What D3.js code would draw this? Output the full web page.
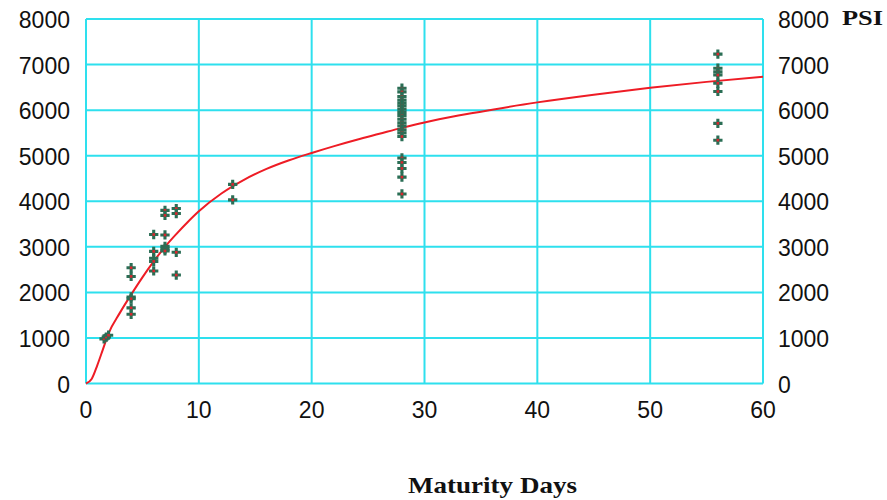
<!DOCTYPE html>
<html>
<head>
<meta charset="utf-8">
<script src="https://cdn.jsdelivr.net/npm/d3@7.9.0/dist/d3.min.js"></script>
<style>
  body { margin: 0; background: #fff; }
  svg { display: block; }
</style>
</head>
<body>
<svg id="chart" width="887" height="500"></svg>
<script>
// tick labels
const xTicks = [0, 10, 20, 30, 40, 50, 60];
const yTicks = [0, 1000, 2000, 3000, 4000, 5000, 6000, 7000, 8000];

// measured strength samples (days, psi)
const sampleDays = [
  1.6, 1.8, 2.0,
  4, 4, 4, 4, 4, 4,
  6, 6, 6, 6, 6,
  7, 7, 7, 7, 7, 7,
  8, 8, 8, 8,
  13, 13,
  28, 28, 28, 28, 28, 28, 28, 28, 28, 28, 28, 28, 28, 28, 28,
  28, 28, 28, 28, 28,
  56, 56, 56, 56, 56, 56, 56, 56
];
const samplePsi = [
  980, 1020, 1060,
  2540, 2350, 1900, 1860, 1660, 1520,
  3270, 2900, 2750, 2680, 2470,
  3800, 3690, 3260, 3010, 2950, 2910,
  3840, 3730, 2880, 2380,
  4370, 4030,
  6480, 6400, 6300, 6220, 6150, 6090, 6020, 5950, 5880, 5800, 5720, 5650, 5570, 5500, 5420,
  4950, 4850, 4720, 4530, 4160,
  7230, 6920, 6840, 6770, 6590, 6410, 5710, 5340
];

// fitted strength curve
const curveDays = [0, 0.5, 1, 1.5, 2, 3, 4, 5, 6, 7, 8, 9, 10, 12, 14, 16, 18, 20, 22, 24, 26, 28, 30, 33, 36, 40, 45, 50, 55, 60];
const curvePsi  = [0, 100, 400, 750, 1100, 1550, 1950, 2330, 2680, 3000, 3280, 3540, 3780, 4170, 4470, 4710, 4900, 5060, 5210, 5350, 5480, 5610, 5730, 5880, 6010, 6170, 6340, 6490, 6620, 6730];

const svg = d3.select("#chart");
const plotLeft = 86, plotRight = 763, plotTop = 19, plotBottom = 383.5;

const x = d3.scaleLinear().domain([0, 60]).range([plotLeft, plotRight]);
const y = d3.scaleLinear().domain([0, 8000]).range([plotBottom, plotTop]);

const grid = "#2ee0ee";
const labelFont = "'Liberation Sans', Arial, sans-serif";

// gridlines
svg.append("g").selectAll("line").data(xTicks).join("line")
  .attr("x1", d => x(d)).attr("x2", d => x(d))
  .attr("y1", plotTop).attr("y2", plotBottom)
  .attr("stroke", grid).attr("stroke-width", 2);

svg.append("g").selectAll("line").data(yTicks).join("line")
  .attr("x1", plotLeft).attr("x2", plotRight)
  .attr("y1", d => y(d)).attr("y2", d => y(d))
  .attr("stroke", grid).attr("stroke-width", 2);

// tick labels
svg.append("g").selectAll("text").data(yTicks).join("text")
  .attr("x", 70).attr("y", d => y(d) + 9)
  .attr("text-anchor", "end")
  .attr("font-family", labelFont).attr("font-size", 23).attr("fill", "#111")
  .text(d => d);

svg.append("g").selectAll("text").data(yTicks).join("text")
  .attr("x", 778).attr("y", d => y(d) + 9)
  .attr("text-anchor", "start")
  .attr("font-family", labelFont).attr("font-size", 23).attr("fill", "#111")
  .text(d => d);

svg.append("g").selectAll("text").data(xTicks).join("text")
  .attr("x", d => x(d)).attr("y", 418)
  .attr("text-anchor", "middle")
  .attr("font-family", labelFont).attr("font-size", 23).attr("fill", "#111")
  .text(d => d);

// titles
svg.append("text")
  .attr("x", 842).attr("y", 25)
  .attr("font-family", "'Liberation Serif', 'Times New Roman', serif")
  .attr("font-weight", "bold").attr("font-size", 20).attr("fill", "#111")
  .attr("textLength", 41).attr("lengthAdjust", "spacingAndGlyphs")
  .text("PSI");

svg.append("text")
  .attr("x", 408).attr("y", 493)
  .attr("font-family", "'Liberation Serif', 'Times New Roman', serif")
  .attr("font-weight", "bold").attr("font-size", 23).attr("fill", "#111")
  .attr("textLength", 169).attr("lengthAdjust", "spacingAndGlyphs")
  .text("Maturity Days");

// curve
const line = d3.line()
  .x(i => x(curveDays[i]))
  .y(i => y(curvePsi[i]))
  .curve(d3.curveMonotoneX);

svg.append("path")
  .attr("d", line(d3.range(curveDays.length)))
  .attr("fill", "none").attr("stroke", "#ee1c25").attr("stroke-width", 2);

// sample markers: green cross with red centre
const pts = svg.append("g").selectAll("g")
  .data(d3.range(sampleDays.length)).join("g")
  .attr("transform", i => `translate(${x(sampleDays[i])},${y(samplePsi[i])})`);

const cross = d3.symbol().type(d3.symbolCross).size(48);
pts.append("path").attr("d", cross).attr("fill", "#2a6e55");
pts.append("rect")
  .attr("x", -1.3).attr("y", -1.3).attr("width", 2.6).attr("height", 2.6)
  .attr("fill", "#d8262e");
</script>
</body>
</html>
